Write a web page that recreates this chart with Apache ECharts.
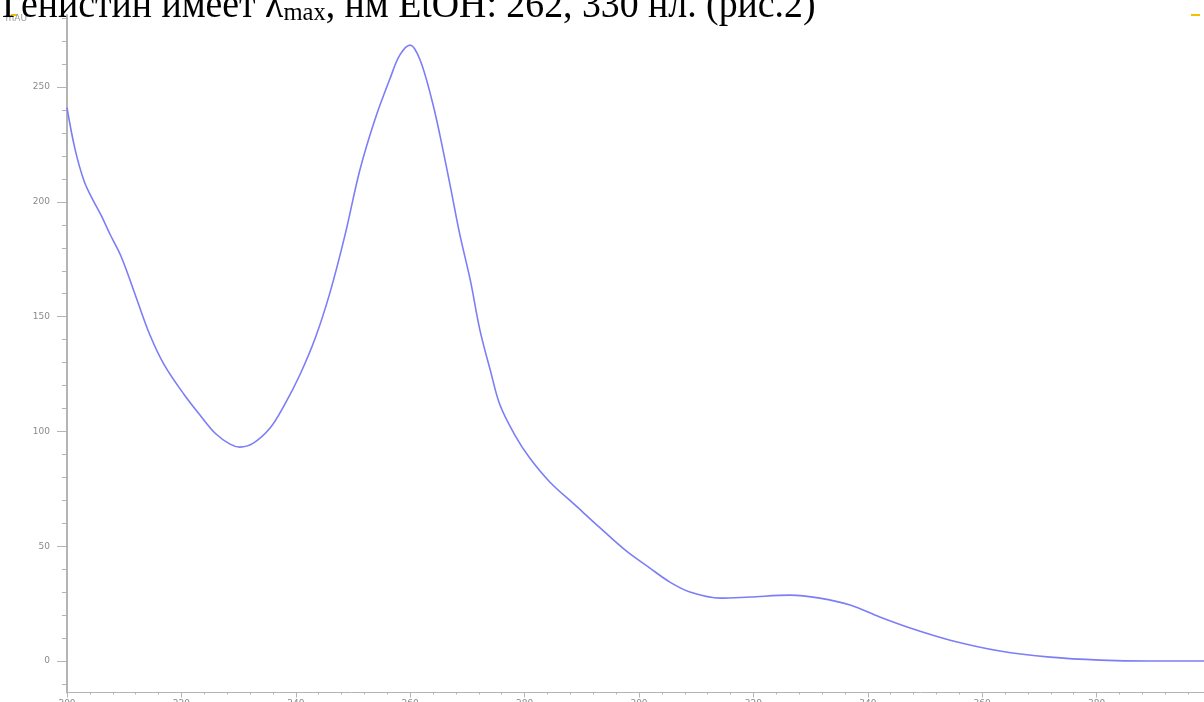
<!DOCTYPE html>
<html>
<head>
<meta charset="utf-8">
<script src="https://cdn.jsdelivr.net/npm/echarts@6/dist/echarts.min.js"></script>
<style>
  html, body { margin: 0; padding: 0; background: #fff; }
  #chart { width: 1204px; height: 702px; }
</style>
</head>
<body>
<div id="chart"></div>
<script>
// UV absorption spectrum of genistin in EtOH (wavelength, nm -> mAU)
const wavelength = [200, 201.4, 203, 204.5, 206, 207.5, 209.5, 212, 214.5, 217, 220.5, 223.3, 226, 228.5, 230.2,
  232.5, 235.5, 238, 240.7, 243.4, 246, 248.6, 251.2, 253.8, 256.5, 258.2, 260, 261.7, 263.8, 265.2, 267,
  268.7, 270.5, 272.2, 274, 275.7, 278.3, 280.9, 284.4, 288.8, 293.2, 297.6, 301.9, 305.4, 308.9, 314.2,
  319.4, 326.4, 331.6, 336.9, 342.1, 347.4, 354.4, 363.1, 371.9, 380.6, 389.3, 400];
const absorbance = [241, 223, 209, 201, 194, 186, 176, 159, 142, 129, 116, 107, 99, 94.5, 93.2,
  94.8, 101.5, 111.5, 124.6, 140.7, 160.7, 185.5, 213.9, 235.6, 253.9, 264, 268.3, 262, 244.3, 229, 207,
  185.5, 166, 144, 126.7, 111.5, 98.4, 88.4, 78, 68, 58, 48.3, 40.5, 34.4, 30.1, 27.4,
  27.9, 28.7, 27.4, 24.4, 19.2, 14.4, 9.1, 4.4, 1.7, 0.4, 0, 0];

const yLabelValues = [0, 50, 100, 150, 200, 250];
const yMinorValues = [-10, 10, 20, 30, 40, 60, 70, 80, 90, 110, 120, 130, 140, 160, 170, 180, 190,
  210, 220, 230, 240, 260, 270, 280];
const xMinorValues = [];
for (let w = 200; w <= 400; w += 4) { if (w % 20 !== 0) xMinorValues.push(w); }

const captionText = '{a|Генистин имеет λ}{b|max}{a|, нм EtOH: 262, 330 нл. (рис.2)}';

const axisGray = '#b4b4b4';
const labelGray = '#8a8a8a';

const chart = echarts.init(document.getElementById('chart'), null, { renderer: 'canvas' });

const pts = wavelength.map((w, i) => [w, absorbance[i]]);

chart.setOption({
  animation: false,
  backgroundColor: '#ffffff',
  grid: { left: 67, top: 15, width: 1144, height: 677.5, outerBoundsMode: 'none', containLabel: false },
  xAxis: [{
    type: 'value', min: 200, max: 400, interval: 20,
    axisLine: { show: true, onZero: false, lineStyle: { color: axisGray, width: 1 } },
    axisTick: { show: true, length: 5, lineStyle: { color: axisGray } },
    axisLabel: { margin: 7, fontSize: 9, color: labelGray, fontFamily: 'DejaVu Sans', showMaxLabel: true },
    splitLine: { show: false }
  }, {
    type: 'value', min: 200, max: 400, position: 'bottom',
    axisLine: { show: false, onZero: false },
    axisTick: { show: true, length: 2, customValues: xMinorValues, lineStyle: { color: axisGray } },
    axisLabel: { show: false },
    splitLine: { show: false }
  }],
  yAxis: [{
    type: 'value', min: -13.7, max: 281.4,
    name: 'mAU', nameLocation: 'end', nameGap: -4,
    nameTextStyle: { align: 'right', verticalAlign: 'middle', padding: [0, 40, 0, 0], fontSize: 9, color: '#999', fontFamily: 'DejaVu Sans' },
    axisLine: { show: true, onZero: false, lineStyle: { color: axisGray, width: 2 } },
    axisTick: { show: true, length: 10, customValues: yLabelValues, lineStyle: { color: axisGray } },
    axisLabel: { customValues: yLabelValues, margin: 17, fontSize: 9, color: labelGray, fontFamily: 'DejaVu Sans' },
    splitLine: { show: false }
  }, {
    type: 'value', min: -13.7, max: 281.4, position: 'left',
    axisLine: { show: false, onZero: false },
    axisTick: { show: true, length: 5, customValues: yMinorValues, lineStyle: { color: axisGray } },
    axisLabel: { show: false },
    splitLine: { show: false }
  }],
  series: [{
    type: 'line',
    data: pts,
    smooth: 0.35,
    showSymbol: false,
    lineStyle: { color: '#7d7df7', width: 1.6 }
  }],
  graphic: [
    {
      type: 'text', x: 2, y: -14, scaleX: 0.945, z: 100,
      style: {
        text: captionText,
        rich: {
          a: { fontSize: 40, fontFamily: 'Liberation Serif', fill: '#000', lineHeight: 40, verticalAlign: 'bottom' },
          b: { fontSize: 26, fontFamily: 'Liberation Serif', fill: '#000', lineHeight: 1, verticalAlign: 'bottom' }
        }
      }
    },
    { type: 'rect', shape: { x: 11, y: 14, width: 6, height: 2 }, style: { fill: '#f2c200' } },
    { type: 'rect', shape: { x: 1191, y: 14, width: 9, height: 2 }, style: { fill: '#f2c200' } }
  ]
});
</script>
</body>
</html>
